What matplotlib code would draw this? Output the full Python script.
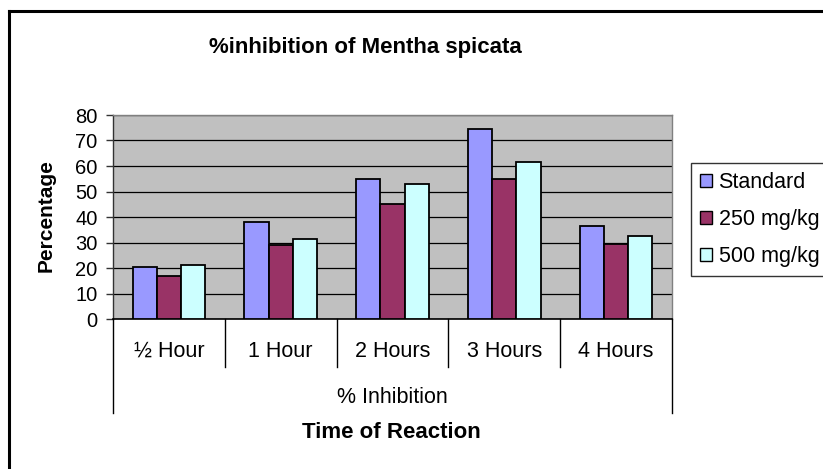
import matplotlib
matplotlib.use("Agg")
import matplotlib.pyplot as plt
from matplotlib.lines import Line2D
from matplotlib.patches import Patch
import matplotlib.transforms as mtransforms
import numpy as np

plt.rcParams['font.family'] = ['Liberation Sans', 'DejaVu Sans']

categories = ["½ Hour", "1 Hour", "2 Hours", "3 Hours", "4 Hours"]
series_names = ["Standard", "250 mg/kg", "500 mg/kg"]
standard = [20.2, 37.9, 54.9, 74.5, 36.6]
mg250 = [17.0, 29.2, 45.2, 55.0, 29.3]
mg500 = [21.0, 31.2, 52.8, 61.6, 32.6]
series = [standard, mg250, mg500]
colors = ["#9999FF", "#993366", "#CCFFFF"]
y_ticks = [0, 10, 20, 30, 40, 50, 60, 70, 80]
group_label = "% Inhibition"
title = "%inhibition of Mentha spicata"
xlabel = "Time of Reaction"
ylabel = "Percentage"

W, H = 823, 469
fig = plt.figure(figsize=(W / 100, H / 100), dpi=100)
fig.patch.set_facecolor("white")

L, R, T, B = 113, 672, 115, 319
ax = fig.add_axes([L / W, 1 - B / H, (R - L) / W, (B - T) / H])
ax.set_facecolor("#C0C0C0")

n = len(categories)
x = np.arange(n)
bw = 0.217
for i, (vals, c, name) in enumerate(zip(series, colors, series_names)):
    ax.bar(x + (i - 1) * bw, vals, width=bw, color=c, edgecolor="black",
           linewidth=1.3, label=name, zorder=3)

ax.set_xlim(-0.5, n - 0.5)
ax.set_ylim(0, 80)
ax.set_yticks(y_ticks)
ax.set_yticklabels([str(v) for v in y_ticks], fontsize=14.5)
ax.yaxis.grid(True, color="black", linewidth=0.9, zorder=1)
ax.set_axisbelow(True)
ax.tick_params(axis="y", direction="out", length=5, width=1, color="#333333", pad=6)
ax.set_xticks([])

for s in ["top", "right"]:
    ax.spines[s].set_color("#808080")
    ax.spines[s].set_linewidth(1)
ax.spines["left"].set_color("#333333")
ax.spines["left"].set_linewidth(1)
ax.spines["bottom"].set_color("black")
ax.spines["bottom"].set_linewidth(1.2)


def fy(py):
    return 1 - py / H


blend = mtransforms.blended_transform_factory(ax.transData, fig.transFigure)

# inner separators
for k in range(1, n):
    fig.add_artist(Line2D([k - 0.5, k - 0.5], [fy(319), fy(367)], transform=blend,
                          color="black", linewidth=1))
# outer separators
for xe in [-0.5, n - 0.5]:
    fig.add_artist(Line2D([xe, xe], [fy(319), fy(413)], transform=blend,
                          color="black", linewidth=1))

for i, cat in enumerate(categories):
    fig.text(x[i], fy(351), cat, transform=blend, ha="center", va="center",
             fontsize=15.5)

fig.text((L + R) / 2 / W, fy(397), group_label, ha="center", va="center",
         fontsize=15.5)
fig.text(391 / W, fy(433), xlabel, ha="center", va="center",
         fontsize=16, fontweight="bold")
fig.text(46 / W, fy(216), ylabel, ha="center", va="center", rotation=90,
         fontsize=15, fontweight="bold")
fig.text(365 / W, fy(48), title, ha="center", va="center",
         fontsize=16, fontweight="bold")

# outer frame
fig.add_artist(Line2D([9 / W, 9 / W], [fy(11), 0], transform=fig.transFigure,
                      color="black", linewidth=2.2))
fig.add_artist(Line2D([9 / W, 1], [fy(11), fy(11)], transform=fig.transFigure,
                      color="black", linewidth=2.2))

handles = [Patch(facecolor=c, edgecolor="black", linewidth=1) for c in colors]
leg = fig.legend(handles, series_names, loc="upper left",
                 bbox_to_anchor=(691 / W, fy(163)), fontsize=15.5,
                 frameon=True, fancybox=False, edgecolor="black",
                 handlelength=0.56, handleheight=0.56, handletextpad=0.3,
                 labelspacing=0.74, borderpad=0.42, borderaxespad=0)
leg.get_frame().set_linewidth(1)

fig.savefig("out.png", dpi=100)
